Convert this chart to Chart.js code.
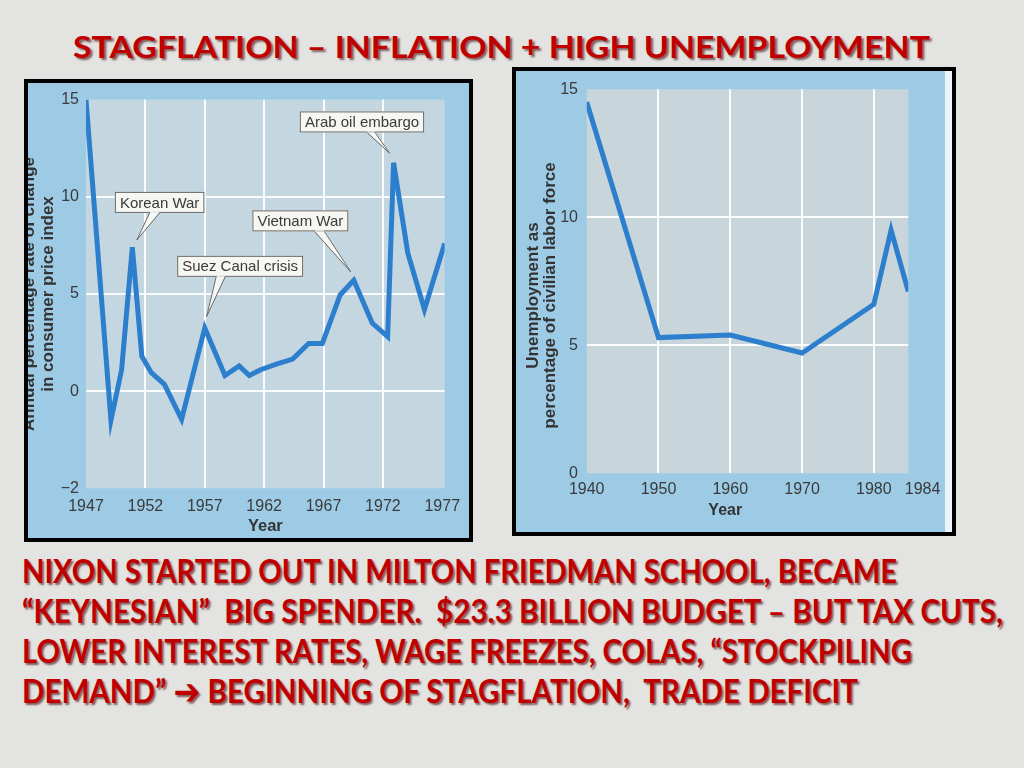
<!DOCTYPE html>
<html>
<head>
<meta charset="utf-8">
<script src="https://cdn.jsdelivr.net/npm/chart.js@4.4.1/dist/chart.umd.min.js"></script>
<style>
html,body{margin:0;padding:0;}
body{width:1024px;height:768px;position:relative;overflow:hidden;background:#e3e3e1;font-family:"Liberation Sans",Arial,sans-serif;}
.txt{position:absolute;white-space:pre;font-family:Lato,"Open Sans","DejaVu Sans Condensed",sans-serif;font-weight:700;font-size:33px;line-height:40px;color:#c00000;text-shadow:2px 2px 2px rgba(60,0,0,0.6);transform-origin:0 50%;display:inline-block;}
.arrow{font-family:"DejaVu Sans",sans-serif;font-size:36px;line-height:0;vertical-align:-1px;}
.holder{position:absolute;overflow:hidden;}
.frame{position:absolute;border:4px solid #000;box-sizing:border-box;pointer-events:none;}
canvas{position:absolute;}
</style>
</head>
<body>
<div class="txt" id="title" data-w="857" style="left:73px;top:26px;font-size:31px;">STAGFLATION – INFLATION + HIGH UNEMPLOYMENT</div>

<div class="holder" style="left:28px;top:83px;width:441px;height:455px;background:#9dcbe6;">
  <canvas id="cpi" style="left:-14px;top:0;width:455px;height:455px;"></canvas>
</div>
<div class="frame" style="left:24px;top:79px;width:449px;height:463px;"></div>

<div class="holder" style="left:516px;top:71px;width:436px;height:461px;background:linear-gradient(to right,#9dcbe6 0,#9dcbe6 429px,#eef4f7 429px);">
  <canvas id="unemp" style="left:0;top:0;width:430px;height:461px;"></canvas>
</div>
<div class="frame" style="left:512px;top:67px;width:444px;height:469px;"></div>

<div class="txt" data-w="875" style="left:22px;top:550px;">NIXON STARTED OUT IN MILTON FRIEDMAN SCHOOL, BECAME</div>
<div class="txt" data-w="981" style="left:22px;top:590px;">“KEYNESIAN”  BIG SPENDER.  $23.3 BILLION BUDGET – BUT TAX CUTS,</div>
<div class="txt" data-w="890" style="left:22px;top:630px;">LOWER INTEREST RATES, WAGE FREEZES, COLAS, “STOCKPILING</div>
<div class="txt" data-w="836" style="left:22px;top:670px;">DEMAND” <span class="arrow">➔</span> BEGINNING OF STAGFLATION,  TRADE DEFICIT</div>

<script>
// ---------- data ----------
const cpiYears  = [1947, 1949.1, 1950.0, 1950.9, 1951.7, 1952.5, 1953.6, 1955.05, 1957.0, 1958.7, 1959.9, 1960.75, 1961.7, 1963.1, 1964.4, 1965.75, 1966.9, 1968.4, 1969.55, 1971.1, 1972.4, 1972.9, 1974.1, 1975.5, 1977.2];
const cpiValues = [15.0, -1.5, 1.1, 7.4, 1.8, 0.95, 0.35, -1.45, 3.25, 0.8, 1.3, 0.8, 1.1, 1.4, 1.65, 2.45, 2.45, 4.95, 5.7, 3.5, 2.8, 11.75, 7.1, 4.2, 7.6];
const cpiXTicks = [1947, 1952, 1957, 1962, 1967, 1972, 1977];
const cpiYTickValues = [-5, 0, 5, 10, 15];
const cpiYTickLabels = ['−2', '0', '5', '10', '15'];
const eventLabels = ['Korean War', 'Suez Canal crisis', 'Vietnam War', 'Arab oil embargo'];

const unempYears  = [1940, 1950, 1960, 1970, 1980, 1982.4, 1984.8];
const unempValues = [14.5, 5.3, 5.4, 4.7, 6.6, 9.5, 7.1];
const unempXTicks = [1940, 1950, 1960, 1970, 1980, 1984];
const unempYTicks = [0, 5, 10, 15];

// ---------- annotation placement (anchors in data space, offsets in px) ----------
const eventPlacement = [
  {box: [1953.2, 9.71],  tip: [1951.27, 7.77], base: [-10, 0]},
  {box: [1959.98, 6.42], tip: [1957.16, 3.84], base: [-24, -15]},
  {box: [1965.05, 8.76], tip: [1969.3, 6.13],  base: [14, 24]},
  {box: [1970.24, 13.85],tip: [1972.57, 12.24],base: [5, 13]}
];

// ---------- styles ----------
const FONT = '"Liberation Sans", Arial, sans-serif';
const LINE_COLOR = '#2d7fcd';
const GRID = 'rgba(255,255,255,0.9)';
const CLEAR = 'rgba(0,0,0,0)';
Chart.defaults.font.family = FONT;

function plotBg(color) {
  return {id: 'plotBg', beforeDraw(chart) {
    const {ctx, chartArea: a} = chart;
    ctx.save(); ctx.fillStyle = color;
    ctx.fillRect(a.left, a.top, a.right - a.left, a.bottom - a.top);
    ctx.restore();
  }};
}

const calloutPlugin = {id: 'callouts', afterDatasetsDraw(chart) {
  const {ctx, scales: {x, y}} = chart;
  ctx.save();
  ctx.font = '15px ' + FONT;
  eventLabels.forEach((label, i) => {
    const p = eventPlacement[i];
    const cx = x.getPixelForValue(p.box[0]);
    const cy = y.getPixelForValue(p.box[1]);
    const tx = x.getPixelForValue(p.tip[0]);
    const ty = y.getPixelForValue(p.tip[1]);
    const w = ctx.measureText(label).width + 10;
    const h = 21;
    const left = cx - w / 2, top = cy - h / 2, bottom = cy + h / 2;
    ctx.beginPath();
    ctx.moveTo(cx + p.base[0], bottom - 1);
    ctx.lineTo(tx, ty);
    ctx.lineTo(cx + p.base[1], bottom - 1);
    ctx.closePath();
    ctx.fillStyle = '#f6f6f2'; ctx.fill();
    ctx.beginPath();
    ctx.moveTo(cx + p.base[0], bottom); ctx.lineTo(tx, ty); ctx.lineTo(cx + p.base[1], bottom);
    ctx.strokeStyle = '#6a6a6a'; ctx.lineWidth = 1; ctx.stroke();
    ctx.fillStyle = '#f6f6f2';
    ctx.fillRect(left, top, w, h);
    ctx.strokeRect(left + 0.5, top + 0.5, w - 1, h - 1);
    ctx.beginPath();
    ctx.moveTo(cx + p.base[0] + 0.5, bottom - 0.5); ctx.lineTo(cx + p.base[1] - 0.5, bottom - 0.5);
    ctx.strokeStyle = '#f6f6f2'; ctx.stroke();
    ctx.fillStyle = '#3a3a3a';
    ctx.textAlign = 'center'; ctx.textBaseline = 'middle';
    ctx.fillText(label, cx, cy + 1);
  });
  ctx.restore();
}};

const shiftLastLabel = {id: 'shiftLast', beforeDraw(chart) {
  const s = chart.scales.x;
  const items = s.getLabelItems();
  const it = items[items.length - 1];
  if (it && !it._shifted) { it.options.translation[0] += 20; it._shifted = true; }
}};

function tickSetter(values) { return s => { s.ticks = values.map(v => ({value: v})); }; }

// ---------- CPI chart ----------
new Chart(document.getElementById('cpi'), {
  type: 'line',
  data: {datasets: [{
    data: cpiYears.map((yr, i) => ({x: yr, y: cpiValues[i]})),
    borderColor: LINE_COLOR, borderWidth: 5, pointRadius: 0, tension: 0, fill: false
  }]},
  options: {
    responsive: false, animation: false, events: [],
    layout: {padding: {top: 13.7, right: 20, bottom: 0, left: 0}},
    plugins: {legend: {display: false}, tooltip: {enabled: false}},
    scales: {
      x: {
        type: 'linear', min: 1947, max: 1977.2,
        afterBuildTicks: tickSetter(cpiXTicks),
        afterFit: s => { s.height = 49.7; },
        border: {display: false},
        grid: {drawTicks: false, lineWidth: 2, color: c => (c.tick && c.tick.value > 1947 && c.tick.value < 1977) ? GRID : CLEAR},
        ticks: {autoSkip: false, maxRotation: 0, padding: 8.8, color: '#3a3a3a', font: {size: 16}, callback: v => String(v)},
        title: {display: true, text: 'Year', color: '#333', font: {size: 16.5, weight: 'bold'}, padding: {top: 0, bottom: 1.4}}
      },
      y: {
        type: 'linear', min: -5, max: 15,
        afterBuildTicks: tickSetter(cpiYTickValues),
        afterFit: s => { s.width = 72; },
        border: {display: false},
        grid: {drawTicks: false, lineWidth: 2, color: c => (c.tick && c.tick.value > -5 && c.tick.value < 15) ? GRID : CLEAR},
        ticks: {padding: 7, color: '#3a3a3a', font: {size: 16}, callback: v => cpiYTickLabels[cpiYTickValues.indexOf(v)]},
        title: {display: true, text: ['Annual percentage rate of change', 'in consumer price index'], color: '#333', font: {size: 17, weight: 'bold', lineHeight: 1.15}, padding: {top: 5.2, bottom: 0}}
      }
    }
  },
  plugins: [plotBg('#c4d6e0'), calloutPlugin]
});

// ---------- Unemployment chart ----------
new Chart(document.getElementById('unemp'), {
  type: 'line',
  data: {datasets: [{
    data: unempYears.map((yr, i) => ({x: yr, y: unempValues[i]})),
    borderColor: LINE_COLOR, borderWidth: 5, pointRadius: 0, tension: 0, fill: false
  }]},
  options: {
    responsive: false, animation: false, events: [],
    layout: {padding: {top: 9.7, right: 37.7, bottom: 0, left: 0}},
    plugins: {legend: {display: false}, tooltip: {enabled: false}},
    scales: {
      x: {
        type: 'linear', min: 1940, max: 1984.8,
        afterBuildTicks: tickSetter(unempXTicks),
        afterFit: s => { s.height = 58.7; },
        border: {display: false},
        grid: {drawTicks: false, lineWidth: 2, color: c => (c.tick && c.tick.value > 1940 && c.tick.value < 1984) ? GRID : CLEAR},
        ticks: {autoSkip: false, maxRotation: 0, padding: 7.1, color: '#3a3a3a', font: {size: 16}, callback: v => String(v)},
        title: {display: true, text: 'Year          ', color: '#333', font: {size: 16, weight: 'bold'}, padding: {top: 0, bottom: 11.7}}
      },
      y: {
        type: 'linear', min: 0, max: 15,
        afterBuildTicks: tickSetter(unempYTicks),
        afterFit: s => { s.width = 70.7; },
        border: {display: false},
        grid: {drawTicks: false, lineWidth: 2, color: c => (c.tick && c.tick.value > 0 && c.tick.value < 15) ? GRID : CLEAR},
        ticks: {padding: 8.7, color: '#3a3a3a', font: {size: 16}, callback: v => String(v)},
        title: {display: true, text: ['Unemployment as      ', 'percentage of civilian labor force      '], color: '#333', font: {size: 17, weight: 'bold', lineHeight: 1}, padding: {top: 8.8, bottom: 0}}
      }
    }
  },
  plugins: [plotBg('#c8d6dc'), shiftLastLabel]
});

// ---------- fit slide text widths ----------
function fitText() {
  document.querySelectorAll('.txt').forEach(el => {
    el.style.transform = 'none';
    const w = el.getBoundingClientRect().width;
    const target = parseFloat(el.dataset.w);
    if (w > 0) el.style.transform = 'scaleX(' + (target / w) + ')';
  });
}
fitText();
if (document.fonts && document.fonts.ready) document.fonts.ready.then(fitText);
</script>
</body>
</html>
